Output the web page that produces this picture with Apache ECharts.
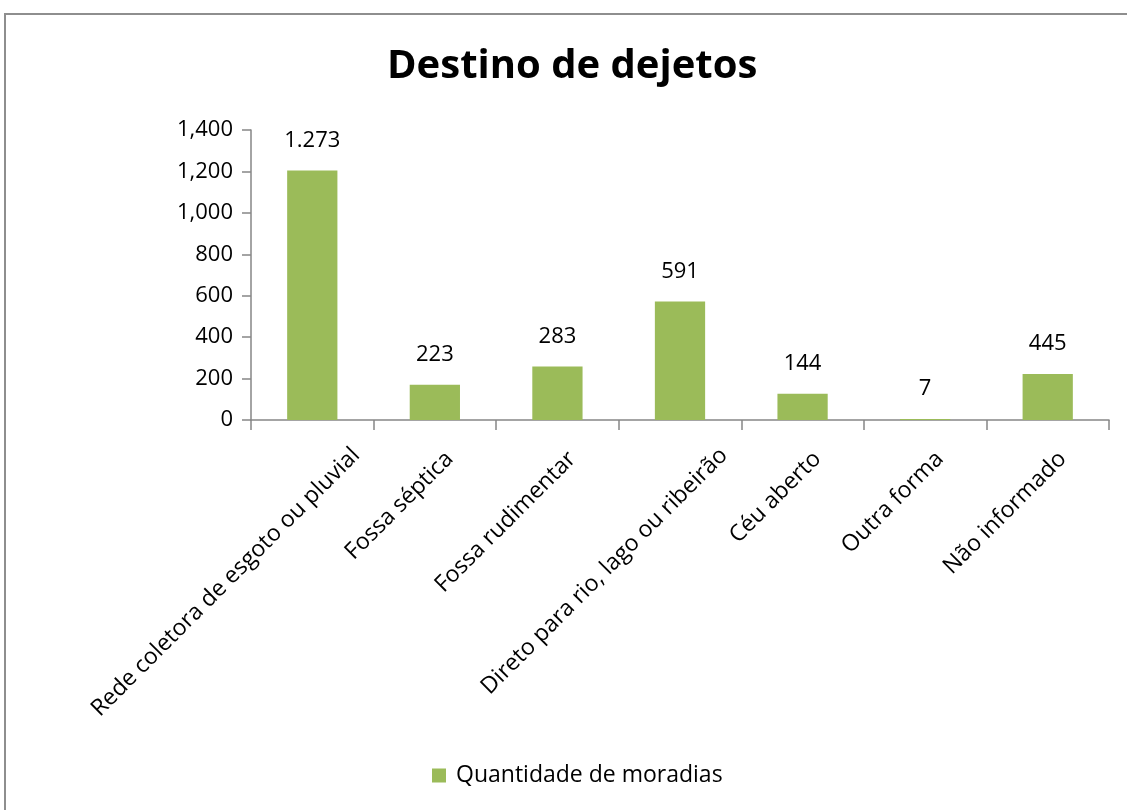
<!DOCTYPE html>
<html>
<head>
<meta charset="utf-8">
<title>Destino de dejetos</title>
<script src="https://cdn.jsdelivr.net/npm/echarts@6/dist/echarts.min.js"></script>
<style>
  html, body { margin: 0; padding: 0; background: #fff; overflow: hidden; }
  #frame {
    position: absolute; left: 4px; top: 13px; width: 1140px; height: 820px;
    border-left: 2px solid #8e8e8e; border-top: 2px solid #8e8e8e;
  }
  #chart { position: absolute; left: 0; top: 0; width: 1127px; height: 810px; }
</style>
</head>
<body>
<div id="frame"></div>
<div id="chart"></div>
<script>
// categories on the x axis
const categories = [
  'Rede coletora de esgoto ou pluvial',
  'Fossa séptica',
  'Fossa rudimentar',
  'Direto para rio, lago ou ribeirão',
  'Céu aberto',
  'Outra forma',
  'Não informado'
];
// bar heights as drawn in the picture
const barValues = [1205, 170, 258, 572, 127, 5, 222];
// the numbers printed above the bars
const labelTexts = ['1.273', '223', '283', '591', '144', '7', '445'];
const yTicks = { min: 0, max: 1400, interval: 200 };

const font = "'Open Sans', 'Noto Sans', sans-serif";
const axisGray = '#868686';

const chart = echarts.init(document.getElementById('chart'));

// Excel pushes rotated labels a bit right of the category centre,
// long ones further than short ones
const catLabel = (name) => {
  const key = name.length > 25 ? 'l' : 's';
  return '{g' + key + '| }\n{' + key + '|' + name + '}';
};

const option = {
  backgroundColor: 'transparent',
  animation: false,
  title: {
    text: 'Destino de dejetos',
    left: 382,
    top: 42,
    textStyle: { fontFamily: font, fontSize: 40, fontWeight: 'bold', color: '#000' }
  },
  legend: {
    bottom: 18,
    left: 427,
    itemWidth: 14,
    itemHeight: 14,
    icon: 'rect',
    data: ['Quantidade de moradias'],
    textStyle: { fontFamily: font, fontSize: 23, color: '#000', padding: [0, 0, 0, 5] }
  },
  grid: { left: 251, right: 18, top: 130, bottom: 390 },
  xAxis: {
    type: 'category',
    data: categories,
    axisLine: { lineStyle: { color: axisGray, width: 1.5 } },
    axisTick: { show: true, interval: 0, length: 10, lineStyle: { color: axisGray, width: 1.5 } },
    axisLabel: {
      interval: 0,
      rotate: 45,
      margin: -12,
      fontFamily: font,
      fontSize: 23,
      color: '#000',
      formatter: catLabel,
      rich: {
        gl: { fontSize: 10, lineHeight: 124 },
        gs: { fontSize: 10, lineHeight: 88 },
        l: { fontFamily: font, fontSize: 23, color: '#000' },
        s: { fontFamily: font, fontSize: 23, color: '#000', padding: [0, 23, 0, 0] }
      }
    }
  },
  yAxis: {
    type: 'value',
    min: yTicks.min,
    max: yTicks.max,
    interval: yTicks.interval,
    splitLine: { show: false },
    axisLine: { show: true, lineStyle: { color: axisGray, width: 1.5 } },
    axisTick: { show: true, length: 9, lineStyle: { color: axisGray, width: 1.5 } },
    axisLabel: {
      margin: 18,
      fontFamily: font,
      fontSize: 22,
      color: '#000',
      formatter: (v) => v.toLocaleString('en-US')
    }
  },
  series: [
    {
      name: 'Quantidade de moradias',
      type: 'bar',
      data: barValues,
      barCategoryGap: '59%',
      itemStyle: { color: '#9BBB59' },
      label: {
        show: true,
        position: 'top',
        distance: 19,
        fontFamily: font,
        fontSize: 22,
        color: '#000',
        formatter: (p) => labelTexts[p.dataIndex]
      }
    }
  ]
};

chart.setOption(option);
</script>
</body>
</html>
